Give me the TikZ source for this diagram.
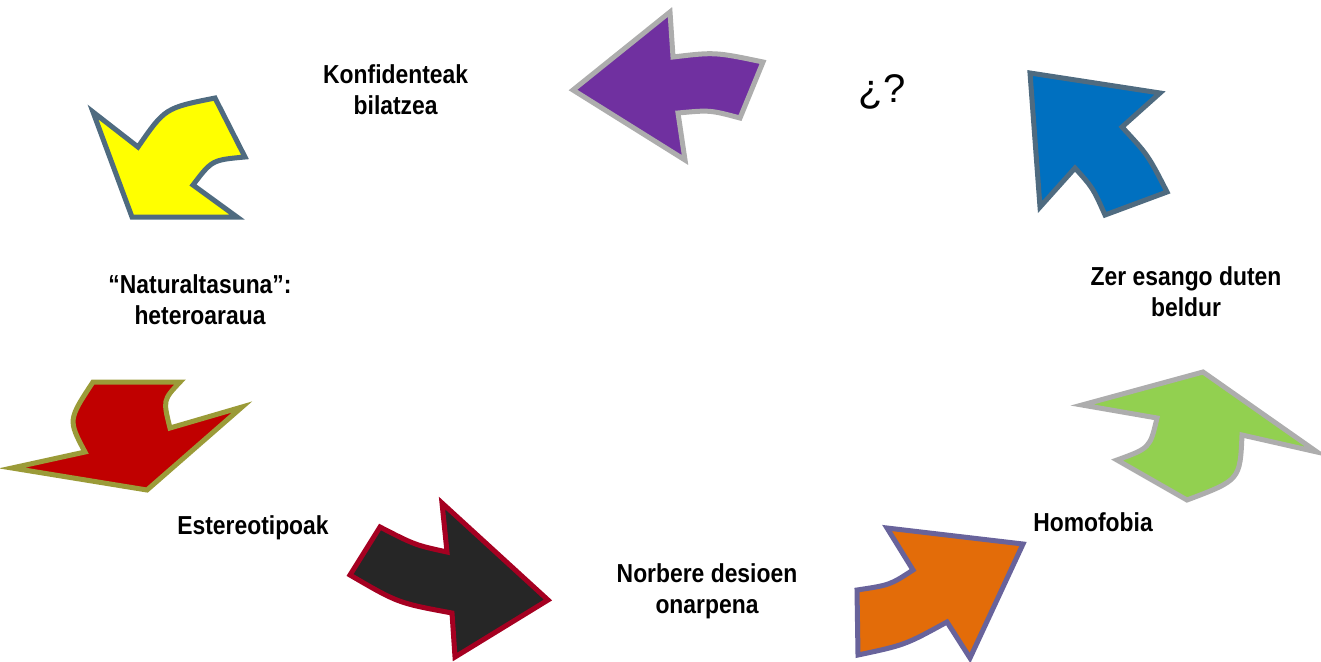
\documentclass[tikz,border=0pt]{standalone}
\usepackage{fontspec}
\setmainfont{Liberation Sans}[FakeStretch=0.88]
\newfontfamily\qfont{Liberation Sans}
\begin{document}
\begin{tikzpicture}[x=1pt,y=-1pt,
  arr/.style={line width=5pt,line join=miter,miter limit=20},
  lbl/.style={font=\fontsize{26}{31}\selectfont\bfseries,align=center,inner sep=0pt}]
\definecolor{cPurple}{HTML}{7030A0}
\definecolor{cGray}{HTML}{ADADAD}
\definecolor{cBlue}{HTML}{0070C0}
\definecolor{cSlate}{HTML}{4F6B80}
\definecolor{cGreen}{HTML}{92D050}
\definecolor{cOrange}{HTML}{E36C09}
\definecolor{cViolet}{HTML}{68639B}
\definecolor{cBlack}{HTML}{262626}
\definecolor{cDarkRed}{HTML}{A50021}
\definecolor{cRed}{HTML}{C00000}
\definecolor{cOlive}{HTML}{9B9B38}
\definecolor{cYellow}{HTML}{FFFF00}
\useasboundingbox (0,0) rectangle (1321,661);
% purple
\draw[arr,fill=cPurple,draw=cGray] (573,90) -- (670,12) -- (673,57) .. controls (715,52) .. (763,62) -- (740,118) .. controls (710,110) .. (678,113) -- (685,160) -- cycle;
% blue
\draw[arr,fill=cBlue,draw=cSlate] (1030,73) -- (1160,93) -- (1122,127) .. controls (1148,155) .. (1167,192) -- (1105,215) .. controls (1093,188) .. (1075,168) -- (1040,207) -- cycle;
% green
\draw[arr,fill=cGreen,draw=cGray] (1082,405) -- (1203,372) -- (1317,452) -- (1242,435) .. controls (1240,480) .. (1187,500) -- (1117,460) .. controls (1150,448) .. (1157,418) -- cycle;
% orange
\draw[arr,fill=cOrange,draw=cViolet] (887,528) -- (1023,544) -- (970,658) -- (947,622) .. controls (905,645) .. (858,655) -- (857,590) .. controls (890,585) .. (913,570) -- cycle;
% black
\draw[arr,fill=cBlack,draw=cDarkRed] (380,527) .. controls (415,545) .. (447,552) -- (442,503) -- (548,600) -- (455,657) -- (452,613) .. controls (398,603) .. (350,575) -- cycle;
% red
\draw[arr,fill=cRed,draw=cOlive] (93,382) -- (180,382) .. controls (163,400) .. (170,428) -- (242,407) -- (147,490) -- (12,468) -- (85,452) .. controls (68,420) .. (93,382) -- cycle;
% yellow
\draw[arr,fill=cYellow,draw=cSlate] (93,112) -- (138,147) .. controls (165,108) .. (215,98) -- (245,157) .. controls (212,160) .. (193,185) -- (237,217) -- (132,217) -- cycle;
% labels
\node[lbl,anchor=west] (konf) at (323,90) {Konfidenteak\\bilatzea};
\node[inner sep=0pt,font=\qfont\fontsize{40}{40}\selectfont] (q) at (882,92) {¿?};
\node[lbl] (zer) at (1186,292) {Zer esango duten\\beldur};
\node[lbl] (natu) at (200,300) {“Naturaltasuna”:\\heteroaraua};
\node[lbl] (norb) at (707,591) {Norbere desioen\\onarpena};
\node[lbl] (este) at (253,528) {Estereotipoak};
\node[lbl] (homo) at (1093,522) {Homofobia};
\end{tikzpicture}
\end{document}
